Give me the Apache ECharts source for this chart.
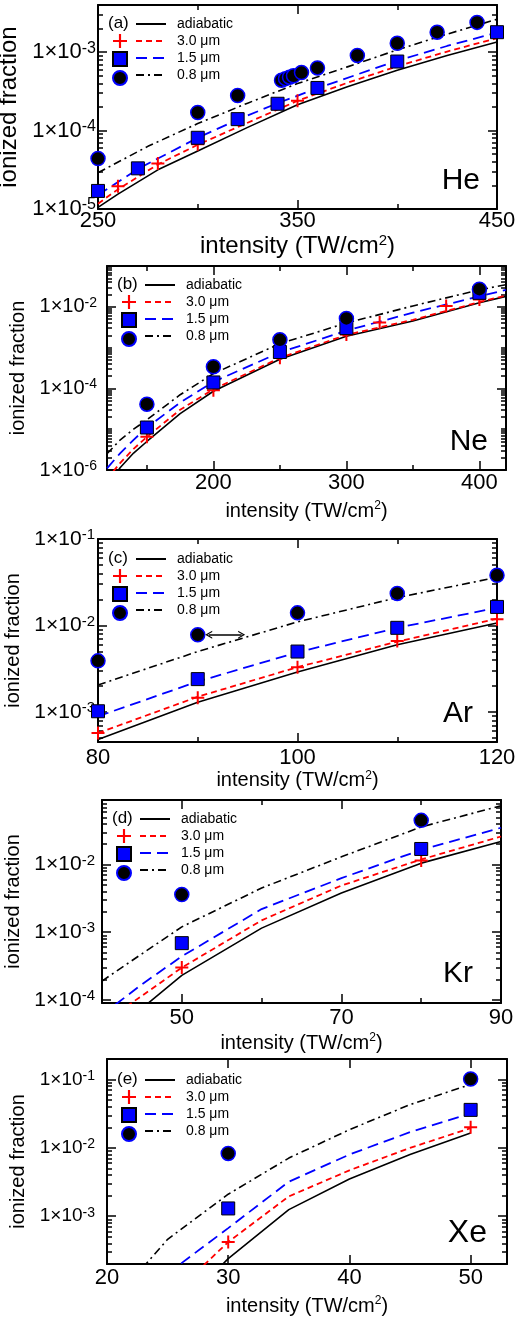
<!DOCTYPE html>
<html><head><meta charset="utf-8">
<script src="https://cdn.jsdelivr.net/npm/echarts@6/dist/echarts.min.js"></script>
<style>html,body{margin:0;padding:0;background:#fff}#c{width:518px;height:1318px}</style>
</head><body><div id="c"></div>
<script>
// ---------------- DATA ----------------
// He (a)
const heAdiabaticX = [250,260,280,300,325,350,375,400,425,450];
const heAdiabatic  = [1.05e-5,1.55e-5,3.16e-5,5.5e-5,1.1e-4,2.14e-4,3.63e-4,5.9e-4,9.1e-4,1.35e-3];
const he30X = [250,260,280,300,325,350,375,400,425,450];
const he30  = [1.17e-5,1.78e-5,3.7e-5,6.6e-5,1.26e-4,2.4e-4,4.07e-4,6.6e-4,1.02e-3,1.51e-3];
const he15X = [250,270,300,320,340,360,400,425,450];
const he15  = [1.51e-5,3.24e-5,8.1e-5,1.38e-4,2.24e-4,3.47e-4,7.8e-4,1.2e-3,1.78e-3];
const he08X = [250,275,300,325,350,375,400,425,450];
const he08  = [2.9e-5,6.3e-5,1.23e-4,2.24e-4,3.98e-4,6.5e-4,1.07e-3,1.7e-3,2.63e-3];
const hePlus   = [[260,1.95e-5],[280,3.8e-5],[300,6.7e-5],[350,2.4e-4]];
const heSquare = [[250,1.7e-5],[270,3.3e-5],[300,8.1e-5],[320,1.4e-4],[340,2.2e-4],[360,3.5e-4],[400,7.6e-4],[450,1.8e-3]];
const heCircle = [[250,4.4e-5],[300,1.7e-4],[320,2.8e-4],[342,4.4e-4],[344,4.6e-4],[346,4.8e-4],[348,5.0e-4],[352,5.5e-4],[360,6.3e-4],[380,9.1e-4],[400,1.3e-3],[420,1.8e-3],[440,2.4e-3]];
const heXTicks = [250,350,450];
const heXMinor = [300,400];
const heYTicks = [1e-5,1e-4,1e-3];

// Ne (b)
const neX = [120,130,140,150,175,200,250,300,350,400,420];
const neAdiabatic = [4e-7,1.15e-6,2.6e-6,5e-6,2.4e-5,8.5e-5,5.2e-4,1.9e-3,4.5e-3,1.25e-2,1.8e-2];
const ne30 = [6e-7,1.5e-6,3.3e-6,6.5e-6,3e-5,9.5e-5,5.6e-4,2.05e-3,4.8e-3,1.3e-2,1.9e-2];
const ne15 = [1.1e-6,2.6e-6,5.5e-6,1.1e-5,4.5e-5,1.45e-4,7.6e-4,2.6e-3,7.2e-3,1.8e-2,2.6e-2];
const ne08 = [2.5e-6,5.5e-6,1e-5,1.7e-5,7e-5,2.3e-4,1.25e-3,4e-3,1.05e-2,2.6e-2,3.5e-2];
const nePlus   = [[150,6.5e-6],[200,9e-5],[250,5.6e-4],[300,2.1e-3],[325,4.1e-3],[375,1.05e-2],[400,1.5e-2]];
const neSquare = [[150,1.1e-5],[200,1.4e-4],[250,7.8e-4],[300,3e-3],[400,2.2e-2]];
const neCircle = [[150,4.1e-5],[200,3.4e-4],[250,1.55e-3],[300,5.2e-3],[400,2.7e-2]];
const neXTicks = [200,300,400];
const neXMinor = [150,250,350];
const neYTicks = [1e-6,1e-4,1e-2];

// Ar (c)
const arX = [80,90,100,110,120];
const arAdiabatic = [4.8e-4,1.3e-3,2.9e-3,6e-3,1.07e-2];
const ar30 = [5.7e-4,1.5e-3,3.3e-3,6.5e-3,1.2e-2];
const ar15 = [8.9e-4,2.25e-3,4.9e-3,9.4e-3,1.6e-2];
const ar08 = [2.05e-3,5e-3,1.1e-2,2.1e-2,3.6e-2];
const arPlus   = [[80,5.7e-4],[90,1.46e-3],[100,3.3e-3],[110,6.6e-3],[120,1.18e-2]];
const arSquare = [[80,1.02e-3],[90,2.4e-3],[100,5e-3],[110,9.4e-3],[120,1.64e-2]];
const arCircle = [[80,3.9e-3],[90,7.8e-3],[100,1.4e-2],[110,2.35e-2],[120,3.8e-2]];
const arArrow  = [[91.1,7.8e-3],[94.4,7.8e-3]];
const arXTicks = [80,100,120];
const arXMinor = [90,110];
const arYTicks = [1e-3,1e-2,1e-1];

// Kr (d)
const krX = [40,45,50,60,70,80,90];
const krAdiabatic = [2.5e-5,7.5e-5,2.3e-4,1.15e-3,3.8e-3,1.05e-2,2.2e-2];
const kr30 = [4.5e-5,1.15e-4,3e-4,1.5e-3,4.9e-3,1.19e-2,2.6e-2];
const kr15 = [6e-5,1.7e-4,4.4e-4,2.2e-3,6.3e-3,1.65e-2,3.5e-2];
const kr08 = [1.9e-4,4.8e-4,1.2e-3,4.5e-3,1.3e-2,3.6e-2,7.4e-2];
const krPlus   = [[50,3e-4],[80,1.15e-2]];
const krSquare = [[50,6.9e-4],[80,1.7e-2]];
const krCircle = [[50,3.6e-3],[80,4.5e-2]];
const krXTicks = [50,70,90];
const krXMinor = [60,80];
const krYTicks = [1e-4,1e-3,1e-2];

// Xe (e)
const xeX = [25,30,35,40,45,50];
const xeAdiabatic = [3e-5,2.4e-4,1.25e-3,3.5e-3,8e-3,1.65e-2];
const xe30 = [6e-5,4.2e-4,1.95e-3,4.7e-3,1e-2,1.95e-2];
const xe15 = [1.45e-4,6.7e-4,3.2e-3,8e-3,1.7e-2,3.2e-2];
const xe08X = [20,25,30,35,40,45,50];
const xe08 = [4.5e-5,4.6e-4,2.1e-3,7.1e-3,1.85e-2,4.3e-2,8.5e-2];
const xePlus   = [[30,4.2e-4],[50,2e-2]];
const xeSquare = [[30,1.3e-3],[50,3.6e-2]];
const xeCircle = [[30,8.3e-3],[50,1.02e-1]];
const xeXTicks = [20,30,40,50];
const xeXMinor = [];
const xeYTicks = [1e-3,1e-2,1e-1];

// ---------------- STYLE ----------------
const FONT = "'Liberation Sans', Arial, Helvetica, sans-serif";
const PLUS = 'path://M5.5,0H7.5V5.5H13V7.5H7.5V13H5.5V7.5H0V5.5H5.5Z';
const CHEVRON = 'path://M5,0L10,10L8.4,10L5,3.2L1.6,10L0,10Z';
const lineNames = ['adiabatic','3.0 μm','1.5 μm','0.8 μm'];
const markNames = ['3.0 μm data','1.5 μm data','0.8 μm data'];
const lineStyles = [
  {color:'#000000', width:1.6, type:'solid'},
  {color:'#ff0000', width:1.8, type:[6,4]},
  {color:'#0000ff', width:1.8, type:[11,6]},
  {color:'#000000', width:1.6, type:[8,4,2,4]}
];
const markStyles = [
  {symbol:PLUS, symbolSize:13, itemStyle:{color:'#ff0000', borderWidth:0, opacity:1}},
  {symbol:'rect', symbolSize:13, itemStyle:{color:'#0000ff', borderColor:'#000', borderWidth:1, opacity:1}},
  {symbol:'circle', symbolSize:14, itemStyle:{color:'#000', borderColor:'#0000ff', borderWidth:1.5, opacity:1}}
];

const panels = [
  {tag:'(a)', el:'He', grid:{left:98,top:5,width:399,height:204}, xRange:[250,450], yRange:[1e-5,4e-3],
   xTicks:heXTicks, xMinor:heXMinor, yTicks:heYTicks,
   lines:[[heAdiabaticX,heAdiabatic],[he30X,he30],[he15X,he15],[he08X,he08]], marks:[hePlus,heSquare,heCircle],
   yFont:22, nameFont:24, xLabelMargin:1, xNameGap:22, yLabelMargin:2, yNameGap:66, legendTop:12, elRight:38, elTop:166, elSize:30},
  {tag:'(b)', el:'Ne', grid:{left:107,top:266,width:399,height:204}, xRange:[120,420], yRange:[1e-6,1e-1],
   xTicks:neXTicks, xMinor:neXMinor, yTicks:neYTicks,
   lines:[[neX,neAdiabatic],[neX,ne30],[neX,ne15],[neX,ne08]], marks:[nePlus,neSquare,neCircle],
   yFont:20, nameFont:20, xLabelMargin:2, xNameGap:30, yLabelMargin:10, yNameGap:67, legendTop:12, elRight:30, elTop:427, elSize:30},
  {tag:'(c)', el:'Ar', grid:{left:98,top:539,width:399,height:203}, xRange:[80,120], yRange:[4.5e-4,1e-1],
   xTicks:arXTicks, xMinor:arXMinor, yTicks:arYTicks,
   lines:[[arX,arAdiabatic],[arX,ar30],[arX,ar15],[arX,ar08]], marks:[arPlus,arSquare,arCircle], arrow:arArrow,
   yFont:21, nameFont:20, xLabelMargin:5, xNameGap:23, yLabelMargin:3, yNameGap:69, legendTop:13, elRight:45, elTop:699, elSize:30},
  {tag:'(d)', el:'Kr', grid:{left:102,top:800,width:399,height:203}, xRange:[40,90], yRange:[9e-5,9e-2],
   xTicks:krXTicks, xMinor:krXMinor, yTicks:krYTicks,
   lines:[[krX,krAdiabatic],[krX,kr30],[krX,kr15],[krX,kr08]], marks:[krPlus,krSquare,krCircle],
   yFont:21, nameFont:20, xLabelMargin:4, xNameGap:29, yLabelMargin:7, yNameGap:70, legendTop:12, elRight:45, elTop:959, elSize:30},
  {tag:'(e)', el:'Xe', grid:{left:107,top:1059,width:400,height:205}, xRange:[20,53], yRange:[2e-4,2e-1],
   xTicks:xeXTicks, xMinor:xeXMinor, yTicks:xeYTicks,
   lines:[[xeX,xeAdiabatic],[xeX,xe30],[xeX,xe15],[xe08X,xe08]], marks:[xePlus,xeSquare,xeCircle],
   yFont:19, nameFont:20, xLabelMargin:3, xNameGap:31, yLabelMargin:12, yNameGap:70, legendTop:14, elRight:31, elTop:1217, elSize:32}
];

function minorLog(min, max, majors) {
  const out = [];
  for (let n = Math.floor(Math.log10(min)); n <= Math.ceil(Math.log10(max)); n++) {
    for (let k = 1; k <= 9; k++) {
      const v = Number((k * Math.pow(10, n)).toPrecision(6));
      if (v > min * 1.0001 && v < max / 1.0001 && !majors.some(m => Math.abs(m - v) / v < 1e-6)) out.push(v);
    }
  }
  return out;
}

const TICK = {color:'#000', width:1.5};
const AXLINE = {show:true, onZero:false, lineStyle:{color:'#000', width:2}};
const option = {animation:false, backgroundColor:'#fff', grid:[], xAxis:[], yAxis:[], legend:[], title:[], series:[]};

panels.forEach((p, i) => {
  option.grid.push(Object.assign({containLabel:false, outerBoundsMode:'none'}, p.grid));
  const xb = {gridIndex:i, type:'value', min:p.xRange[0], max:p.xRange[1], splitLine:{show:false},
              axisLine:{show:false, onZero:false}, axisLabel:{show:false}, axisPointer:{show:false}};
  const xMajor = {show:true, inside:true, length:9, customValues:p.xTicks, lineStyle:TICK};
  const xMin = {show:p.xMinor.length > 0, inside:true, length:5, customValues:p.xMinor.length ? p.xMinor : [p.xRange[0]], lineStyle:TICK};
  option.xAxis.push(Object.assign({}, xb, {position:'bottom', axisLine:AXLINE, axisTick:xMajor,
      axisLabel:{show:true, customValues:p.xTicks, margin:p.xLabelMargin, fontSize:22, fontFamily:FONT, color:'#000'},
      name:'{n|intensity (TW/cm}{s|2}{n|)}', nameLocation:'middle', nameGap:p.xNameGap,
      nameTextStyle:{color:'#000', fontFamily:FONT, fontSize:p.nameFont,
        rich:{n:{fontSize:p.nameFont, lineHeight:p.nameFont+2, fontFamily:FONT, color:'#000'},
              s:{fontSize:Math.round(p.nameFont*0.62), lineHeight:Math.round(p.nameFont*0.62), verticalAlign:'top', fontFamily:FONT, color:'#000'}}}}));
  option.xAxis.push(Object.assign({}, xb, {position:'bottom', axisTick:xMin}));
  option.xAxis.push(Object.assign({}, xb, {position:'top', axisLine:AXLINE, axisTick:xMajor}));
  option.xAxis.push(Object.assign({}, xb, {position:'top', axisTick:xMin}));

  const minors = minorLog(p.yRange[0], p.yRange[1], p.yTicks);
  const yb = {gridIndex:i, type:'log', logBase:10, min:p.yRange[0], max:p.yRange[1], splitLine:{show:false},
              axisLine:{show:false, onZero:false}, axisLabel:{show:false}, axisPointer:{show:false}};
  const yMajor = {show:true, inside:true, length:9, customValues:p.yTicks, lineStyle:TICK};
  const yMin = {show:true, inside:true, length:5, customValues:minors, lineStyle:TICK};
  const sf = Math.round(p.yFont * 0.72);
  option.yAxis.push(Object.assign({}, yb, {position:'left', axisLine:AXLINE, axisTick:yMajor,
      axisLabel:{show:true, customValues:p.yTicks, margin:p.yLabelMargin,
        formatter: v => '{b|1×10}{s|' + Math.round(Math.log10(v)) + '}',
        rich:{b:{fontSize:p.yFont, lineHeight:p.yFont+2, fontFamily:FONT, color:'#000'},
              s:{fontSize:sf, lineHeight:sf, verticalAlign:'top', fontFamily:FONT, color:'#000'}}},
      name:'ionized fraction', nameLocation:'middle', nameGap:p.yNameGap,
      nameTextStyle:{color:'#000', fontFamily:FONT, fontSize:p.nameFont}}));
  option.yAxis.push(Object.assign({}, yb, {position:'left', axisTick:yMin}));
  option.yAxis.push(Object.assign({}, yb, {position:'right', axisLine:AXLINE, axisTick:yMajor}));
  option.yAxis.push(Object.assign({}, yb, {position:'right', axisTick:yMin}));

  // line series
  p.lines.forEach((ln, k) => {
    option.series.push({type:'line', name:lineNames[k], xAxisIndex:i*4, yAxisIndex:i*4,
      data: ln[0].map((x, j) => [x, ln[1][j]]), symbol:'none', showSymbol:false, clip:true, silent:true,
      lineStyle:lineStyles[k], itemStyle:{color:lineStyles[k].color}, z:2});
  });
  // marker series
  p.marks.forEach((mk, k) => {
    const s = Object.assign({type:'scatter', name:markNames[k], xAxisIndex:i*4, yAxisIndex:i*4,
      data: mk, clip:false, silent:true, z:3}, markStyles[k]);
    if (k === 2 && p.arrow) {
      s.markLine = {silent:true, symbol:[CHEVRON, CHEVRON], symbolSize:[8,7], label:{show:false},
        lineStyle:{color:'#000', width:1.5, type:'solid', opacity:1}, emphasis:{disabled:true},
        data:[[{coord:p.arrow[0]},{coord:p.arrow[1]}]]};
    }
    option.series.push(s);
  });

  const gl = p.grid.left, gt = p.grid.top;
  option.legend.push({orient:'vertical', left:gl+37, top:gt+p.legendTop, padding:0, itemWidth:30, itemHeight:14, itemGap:3,
    data:lineNames, selectedMode:false,
    itemStyle:{color:'rgba(0,0,0,0)', borderColor:'rgba(0,0,0,0)', borderWidth:0, opacity:0},
    textStyle:{fontSize:14, lineHeight:14, fontFamily:FONT, color:'#000', padding:[0,0,0,6]}});
  option.legend.push({orient:'vertical', left:gl+14, top:gt+p.legendTop+17, padding:0, itemWidth:14, itemHeight:14, itemGap:3,
    data:markNames, selectedMode:false, formatter:() => '',
    textStyle:{fontSize:14, lineHeight:14, fontFamily:FONT, color:'#000'}});
  option.title.push({text:p.tag, left:gl+10, top:gt+p.legendTop-2, padding:0,
    textStyle:{fontSize:17, fontWeight:'normal', fontFamily:FONT, color:'#000'}});
  option.title.push({text:p.el, right:p.elRight, top:p.elTop, padding:0,
    textStyle:{fontSize:p.elSize, fontWeight:'normal', fontFamily:FONT, color:'#000'}});
});

const chart = echarts.init(document.getElementById('c'), null, {renderer:'canvas'});
chart.setOption(option);
</script>
</body></html>
